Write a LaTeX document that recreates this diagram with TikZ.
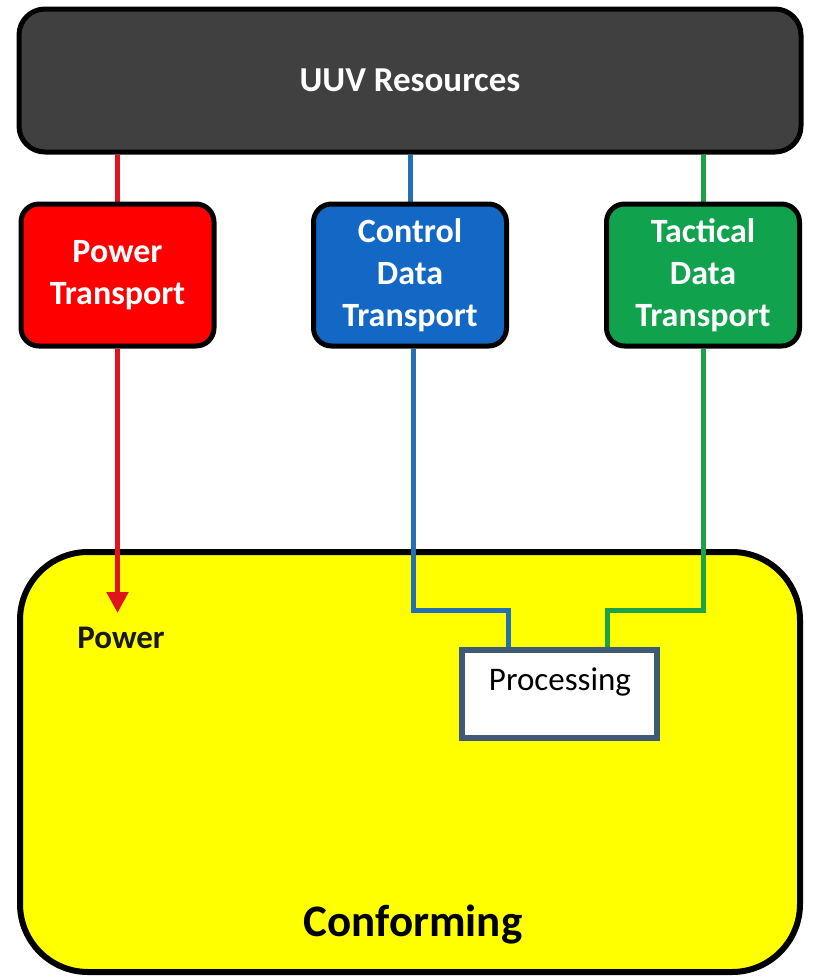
\documentclass[tikz,border=0pt]{standalone}
\usepackage{fontspec}
\setmainfont{Carlito}
\usetikzlibrary{arrows.meta,calc}
\definecolor{uuvgrey}{HTML}{404040}
\definecolor{pwrred}{HTML}{FF0000}
\definecolor{ctlblue}{HTML}{1268C4}
\definecolor{tacgreen}{HTML}{10A24C}
\definecolor{redwire}{HTML}{E0141C}
\definecolor{bluewire}{HTML}{2470B4}
\definecolor{greenwire}{HTML}{1BA24A}
\definecolor{procedge}{HTML}{3E5A78}
\definecolor{confyellow}{HTML}{FFFF00}
\pgfdeclarelayer{back}
\pgfdeclarelayer{mid}
\pgfsetlayers{back,mid,main}
\tikzset{
  transbox/.style={draw=black, line width=5pt, rounded corners=18pt, text=white,
    font=\bfseries\fontsize{34}{42}\selectfont, align=center,
    minimum width=193pt, minimum height=142pt, inner sep=0pt},
  wire/.style={line width=5pt},
}
\begin{document}
\begin{tikzpicture}[x=1pt,y=-1pt]
\useasboundingbox (0,0) rectangle (812,980);

% top resource box
\node[draw=black, line width=5pt, rounded corners=26pt, fill=uuvgrey,
      minimum width=782pt, minimum height=143pt, inner sep=0pt, text=white,
      font=\bfseries\fontsize{35}{42}\selectfont] (uuv) at (410,80.5) {UUV Resources};

% transport boxes
\node[transbox, fill=pwrred] (power) at (117.5,275) {Power\\Transport};
\node[transbox, fill=ctlblue] (ctrl) at (410,275) {Control\\Data\\Transport};
\node[transbox, fill=tacgreen] (tact) at (703,275) {Tactical\\Data\\Transport};

% processing box
\node[draw=procedge, line width=5.5pt, fill=white, minimum width=195pt,
      minimum height=88pt, inner sep=0pt] (proc) at (559.5,694) {};
\node[anchor=base, font=\fontsize{33}{38}\selectfont, text=black] (proctext) at (560,690) {Processing};

% labels inside the conforming box
\node[anchor=base, font=\bfseries\fontsize{33}{40}\selectfont, text=black!90] (pwrlabel) at (121,648) {Power};
\node[anchor=base, font=\bfseries\fontsize{45}{52}\selectfont, text=black] (conftext) at (413,936) {Conforming};

\coordinate (ptip) at (117.5,613);
\coordinate (cdrop) at ($(proc.north)+(-51,0)$);
\coordinate (gdrop) at ($(proc.north)+(48,0)$);

\begin{pgfonlayer}{back}
\node[draw=black, line width=6pt, fill=confyellow, rounded corners=68pt,
      minimum width=780pt, minimum height=420pt, inner sep=0pt] (conf) at (410,762) {};
\end{pgfonlayer}

\begin{pgfonlayer}{mid}
\draw[wire, redwire] (power.north) -- (power.north |- uuv.south);
\draw[wire, bluewire] (ctrl.north) -- (ctrl.north |- uuv.south);
\draw[wire, greenwire] (tact.north) -- (tact.north |- uuv.south);
\draw[wire, redwire, -{Triangle[width=21pt,length=21pt]}] (power.south) -- (ptip);
\draw[wire, bluewire] ($(ctrl.south)+(3,0)$) |- ($(cdrop)+(0,-37)$) -- (cdrop);
\draw[wire, greenwire] (tact.south) |- ($(gdrop)+(0,-37)$) -- (gdrop);
\end{pgfonlayer}
\end{tikzpicture}
\end{document}
